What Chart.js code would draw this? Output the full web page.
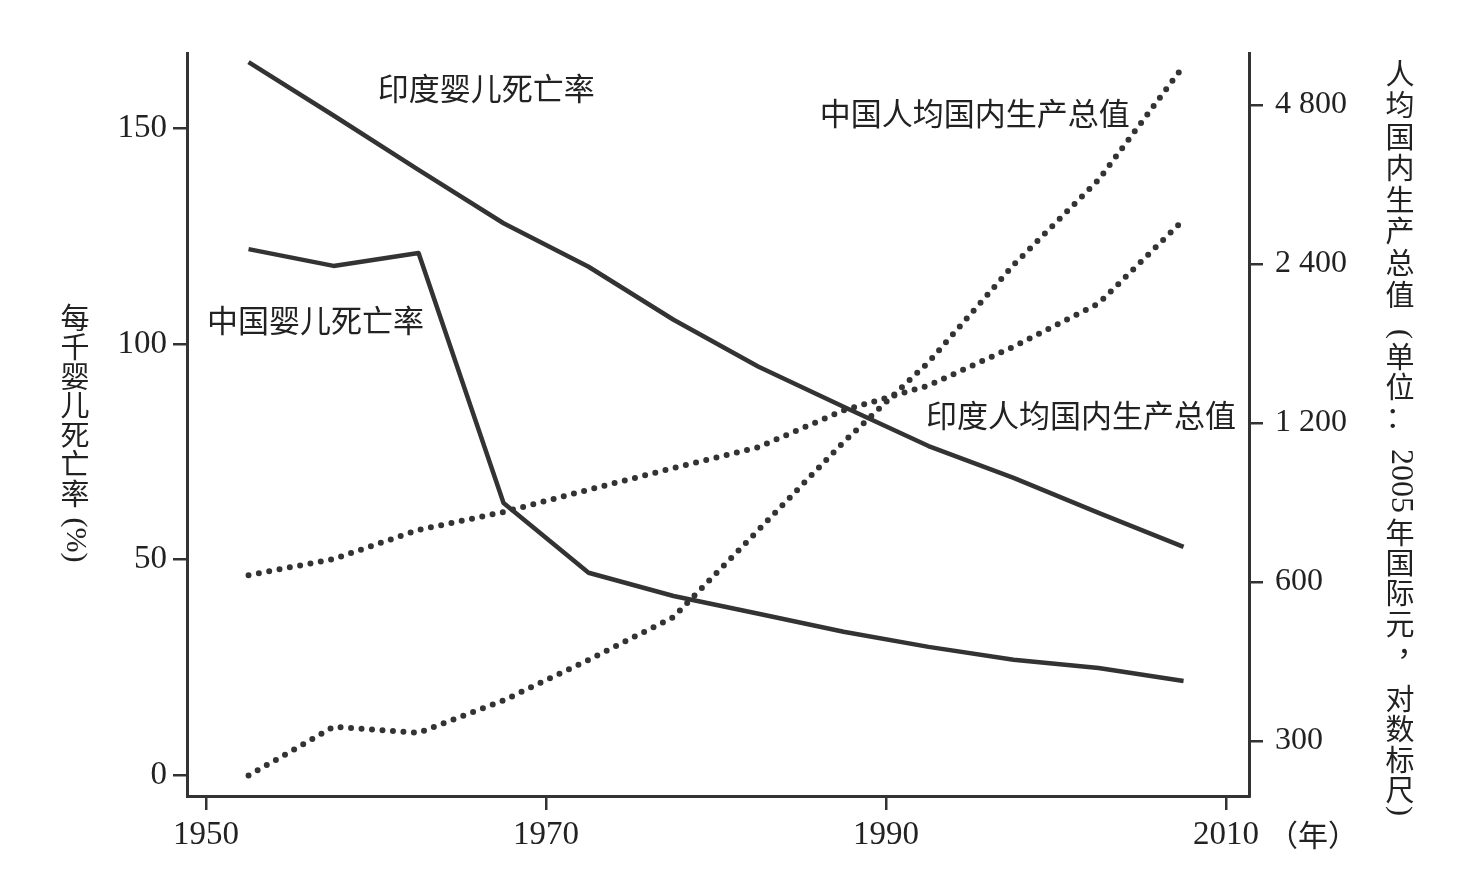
<!DOCTYPE html>
<html lang="zh">
<head>
    <meta charset="UTF-8">
    <title>中印婴儿死亡率与人均国内生产总值</title>
    <script src="https://cdn.jsdelivr.net/npm/chart.js"></script>
    <style>
        body { margin: 0; background: #fff; }
        canvas { display: block; }
    </style>
</head>
<body>
    <canvas id="chart" width="1462" height="879"></canvas>
    <script>
        // 年份（五年期中点）
        const years = [1952.5, 1957.5, 1962.5, 1967.5, 1972.5, 1977.5, 1982.5, 1987.5, 1992.5, 1997.5, 2002.5, 2007.5];
        // 婴儿死亡率（每千）
        const indiaIMR = [165.4, 153, 140.4, 128, 117.9, 105.6, 94.7, 85.4, 76.3, 68.9, 60.8, 52.9];
        const chinaIMR = [122, 118.1, 121.1, 63.1, 46.9, 41.5, 37.4, 33.2, 29.7, 26.7, 24.8, 21.8];
        // 人均国内生产总值（2005年国际元）
        const chinaGDP = [258, 319, 311, 358, 427, 515, 753, 1104, 1564, 2390, 3464, 5690];
        const indiaGDP = [618, 663, 753, 814, 897, 986, 1080, 1268, 1413, 1673, 2020, 2910];
        // 刻度
        const xTicks = [1950, 1970, 1990, 2010];
        const leftTicks = [0, 50, 100, 150];
        const rightTicks = [300, 600, 1200, 2400, 4800];

        // 线旁标注: [文字, 年份, 左轴值]
        const lineLabels = [
            ['印度婴儿死亡率', 1960.1, 159.4],
            ['中国婴儿死亡率', 1950.05, 105.6],
            ['中国人均国内生产总值', 1986.1, 153.6],
            ['印度人均国内生产总值', 1992.35, 83.5]
        ];

        const ink = '#333333';
        const cjk = '"Noto Sans CJK SC", sans-serif';
        const serif = '"Liberation Serif", "DejaVu Serif", serif';

        const pts = (ys) => years.map((x, i) => ({ x: x, y: ys[i] }));

        // 竖排标题：每段 [文字, 中心y, 是否旋转, 是否衬线, 字号, x偏移]
        const leftTitle = [
            ['每', 318], ['千', 347], ['婴', 377], ['儿', 405], ['死', 435], ['亡', 464], ['率', 494],
            ['(%)', 540, true, true, 30]
        ];
        const rightTitle = [
            ['人', 74], ['均', 105], ['国', 137], ['内', 168], ['生', 200], ['产', 231], ['总', 263], ['值', 295],
            ['(', 334, true, true, 30], ['单', 357], ['位', 387], ['：', 417],
            ['2005', 481, true, true, 32],
            ['年', 533], ['国', 563], ['际', 593], ['元', 624], ['，', 644, false, false, 30, 12],
            ['对', 699], ['数', 729], ['标', 760], ['尺', 790], [')', 811, true, true, 30]
        ];

        function drawTitle(ctx, x, parts) {
            ctx.save();
            ctx.fillStyle = '#222';
            ctx.textAlign = 'center';
            ctx.textBaseline = 'middle';
            parts.forEach(p => {
                const size = p[4] || 29;
                ctx.font = size + 'px ' + (p[3] ? serif : cjk);
                ctx.save();
                ctx.translate(x + (p[5] || 0), p[1]);
                if (p[2]) ctx.rotate(Math.PI / 2);
                ctx.fillText(p[0], 0, 0);
                ctx.restore();
            });
            ctx.restore();
        }

        const textPlugin = {
            id: 'texts',
            afterDraw(chart) {
                const ctx = chart.ctx;
                const xs = chart.scales.x, ys = chart.scales.y;
                ctx.save();
                ctx.fillStyle = '#222';
                ctx.font = '31px ' + cjk;
                ctx.textAlign = 'left';
                ctx.textBaseline = 'middle';
                lineLabels.forEach(l => {
                    ctx.fillText(l[0], xs.getPixelForValue(l[1]), ys.getPixelForValue(l[2]));
                });
                // 横轴单位
                ctx.font = '30px ' + cjk;
                ctx.fillText('（年）', 1268, 835);
                ctx.restore();

                drawTitle(ctx, 75, leftTitle);
                drawTitle(ctx, 1400, rightTitle);
            }
        };

        const tickGrid = { display: true, drawOnChartArea: false, drawTicks: true, tickLength: 14, color: ink, lineWidth: 2.5 };
        const border = { display: true, color: ink, width: 3 };
        const solid = { borderColor: ink, borderWidth: 4.5, pointRadius: 0, tension: 0, borderJoinStyle: 'round' };
        const dotted = { borderColor: ink, borderWidth: 6, borderDash: [0, 10.5], borderCapStyle: 'round', pointRadius: 0, tension: 0 };

        new Chart(document.getElementById('chart'), {
            type: 'line',
            data: {
                datasets: [
                    Object.assign({ data: pts(indiaIMR), yAxisID: 'y' }, solid),
                    Object.assign({ data: pts(chinaIMR), yAxisID: 'y' }, solid),
                    Object.assign({ data: pts(chinaGDP), yAxisID: 'y1' }, dotted),
                    Object.assign({ data: pts(indiaGDP), yAxisID: 'y1' }, dotted)
                ]
            },
            options: {
                responsive: false,
                animation: false,
                layout: { padding: { top: 53, left: 0, right: 0, bottom: 0 } },
                plugins: { legend: { display: false }, tooltip: { enabled: false } },
                scales: {
                    x: {
                        type: 'linear',
                        min: 1948.88,
                        max: 2011.35,
                        grid: tickGrid,
                        border: border,
                        afterBuildTicks: s => { s.ticks = xTicks.map(v => ({ value: v })); },
                        afterFit: s => { s.height = 83; },
                        ticks: { color: '#222', font: { family: serif, size: 33 }, padding: 6, maxRotation: 0, callback: v => String(v) }
                    },
                    y: {
                        position: 'left',
                        min: -4.9,
                        max: 167.5,
                        grid: tickGrid,
                        border: border,
                        afterBuildTicks: s => { s.ticks = leftTicks.map(v => ({ value: v })); },
                        afterFit: s => { s.width = 187; },
                        ticks: { color: '#222', font: { family: serif, size: 33 }, padding: 6, callback: v => String(v) }
                    },
                    y1: {
                        type: 'logarithmic',
                        position: 'right',
                        min: 236,
                        max: 6022,
                        grid: tickGrid,
                        border: border,
                        afterBuildTicks: s => { s.ticks = rightTicks.map(v => ({ value: v })); },
                        afterFit: s => { s.width = 213; },
                        ticks: {
                            color: '#222', font: { family: serif, size: 32 }, padding: 12,
                            callback: v => v >= 1000 ? Math.floor(v / 1000) + ' ' + String(v % 1000).padStart(3, '0') : String(v)
                        }
                    }
                }
            },
            plugins: [textPlugin]
        });
    </script>
</body>
</html>
